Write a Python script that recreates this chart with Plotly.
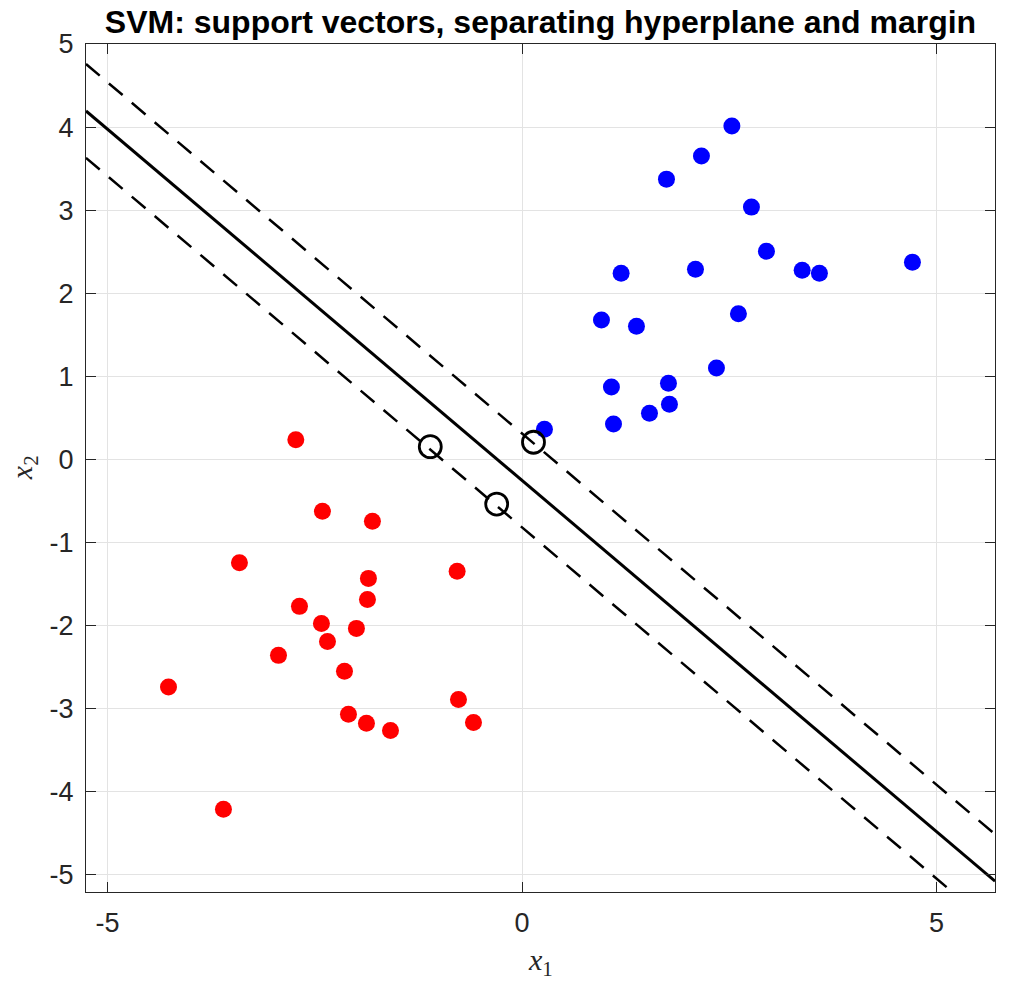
import numpy as np
import plotly.graph_objects as go

# ---- data ----
blue_x = [2.531, 2.164, 1.742, 2.767, 2.948, 1.195, 2.092, 3.379, 3.587, 4.709,
          0.958, 1.380, 2.610, 2.345, 1.078, 1.766, 1.778, 1.537, 1.103, 0.270]
blue_y = [4.012, 3.651, 3.373, 3.036, 2.506, 2.241, 2.289, 2.277, 2.241, 2.373,
          1.678, 1.602, 1.751, 1.100, 0.871, 0.916, 0.663, 0.554, 0.425, 0.361]

red_x = [-2.729, -2.408, -1.805, -3.409, -0.783, -1.853, -1.865, -2.685, -2.420, -1.998,
         -2.347, -2.938, -2.142, -4.265, -0.767, -2.094, -1.877, -0.586, -1.587, -3.602]
red_y = [0.236, -0.627, -0.747, -1.246, -1.349, -1.434, -1.687, -1.771, -1.976, -2.036,
         -2.193, -2.361, -2.551, -2.743, -2.892, -3.069, -3.177, -3.169, -3.265, -4.213]

sv_x = [-1.107, -0.306, 0.138]
sv_y = [0.152, -0.539, 0.205]

# hyperplane w.x + b = 0, margins w.x + b = +/-1
w = [1.497, 1.770]
b = 0.451

x_range = [-5.26, 5.705]
y_range = [-5.21, 5.0]

x_ticks = [-5, 0, 5]
x_ticktext = ["-5", "0", "5"]
y_ticks = [-5, -4, -3, -2, -1, 0, 1, 2, 3, 4, 5]
y_ticktext = ["-5", "-4", "-3", "-2", "-1", "0", "1", "2", "3", "4", "5"]

title = "SVM: support vectors, separating hyperplane and margin"

# ---- figure ----
xs = np.array(x_range)
def line_y(level):
    return (level - b - w[0] * xs) / w[1]

fig = go.Figure()
fig.add_trace(go.Scatter(x=red_x, y=red_y, mode="markers",
                         marker=dict(color="#ff0000", size=17, line=dict(width=0)),
                         showlegend=False, hoverinfo="skip"))
fig.add_trace(go.Scatter(x=blue_x, y=blue_y, mode="markers",
                         marker=dict(color="#0000ff", size=17, line=dict(width=0)),
                         showlegend=False, hoverinfo="skip"))
fig.add_trace(go.Scatter(x=xs, y=line_y(0), mode="lines",
                         line=dict(color="black", width=3), showlegend=False, hoverinfo="skip"))
for lvl in (1, -1):
    fig.add_trace(go.Scatter(x=xs, y=line_y(lvl), mode="lines",
                             line=dict(color="black", width=2.5, dash="18px,12px"),
                             showlegend=False, hoverinfo="skip"))
fig.add_trace(go.Scatter(x=sv_x, y=sv_y, mode="markers",
                         marker=dict(symbol="circle-open", color="black", size=22,
                                     line=dict(width=2.8, color="black")),
                         showlegend=False, hoverinfo="skip"))

axis_common = dict(
    showline=True, linecolor="#262626", linewidth=1.2, mirror="ticks",
    ticks="inside", ticklen=10, tickwidth=1, tickcolor="#262626",
    showgrid=True, gridcolor="#e3e3e3", gridwidth=1, zeroline=False,
    ticklabelstandoff=6,
    tickfont=dict(family="Liberation Sans, Arial, sans-serif", size=27, color="#262626"),
)

fig.update_layout(
    width=1031, height=982,
    margin=dict(l=86, r=36, t=44, b=90),
    plot_bgcolor="white", paper_bgcolor="white",
    title=dict(text="<b>" + title + "</b>", x=0.5, xref="paper", xanchor="center",
               y=1 - 22 / 982, yref="container", yanchor="middle",
               font=dict(family="Liberation Sans, Arial, sans-serif", size=32, color="black")),
    xaxis=dict(range=x_range, tickvals=x_ticks, ticktext=x_ticktext, **axis_common),
    yaxis=dict(range=y_range, tickvals=y_ticks, ticktext=y_ticktext, **axis_common),
    annotations=[
        dict(text="<i>x</i><sub>1</sub>", xref="paper", yref="paper", x=0.5, y=-0.083,
             xanchor="center", yanchor="middle", showarrow=False,
             font=dict(family="Liberation Serif, Times New Roman, serif", size=30, color="#262626")),
        dict(text="<i>x</i><sub>2</sub>", xref="paper", yref="paper", x=-0.068, y=0.5,
             xanchor="center", yanchor="middle", showarrow=False, textangle=-90,
             font=dict(family="Liberation Serif, Times New Roman, serif", size=30, color="#262626")),
    ],
)

fig.write_html("out.html")
